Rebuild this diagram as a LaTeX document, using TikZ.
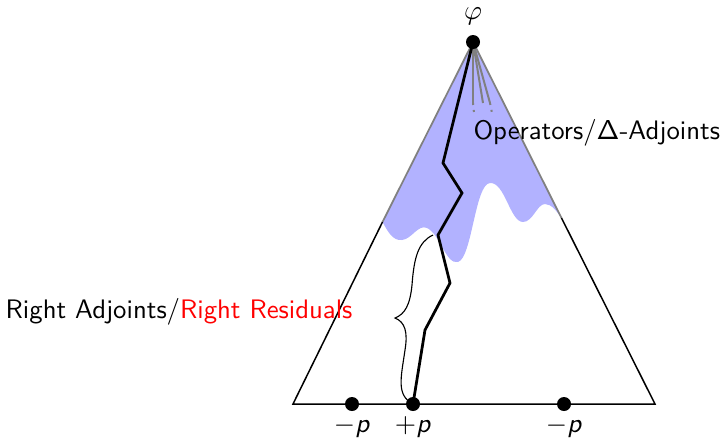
\documentclass[tikz,border=0pt]{standalone}
\usetikzlibrary{calc}
\begin{document}
\begin{tikzpicture}[x=0.4pt,y=-0.4pt,
  dot/.style={circle,fill=black,inner sep=0pt,minimum size=5.6pt},
  lbl/.style={font=\fontsize{10.7pt}{13pt}\selectfont\sffamily,inner sep=0pt},
  opline/.style={draw=gray,line width=0.8pt},
  opdots/.style={draw=gray,line width=0.8pt,dotted}]
\useasboundingbox (0,0) rectangle (720,441);
% key points
\coordinate (apex) at (473,42);
\coordinate (bl) at (293,404);
\coordinate (br) at (655,404);
\coordinate (ls) at (382.5,222);
\coordinate (rs) at (561.5,218);
% shaded region
\fill[blue!30] (apex) -- (ls) .. controls (388,232) and (393,241) .. (402,240)
  .. controls (412,239) and (418,224) .. (427,228)
  .. controls (440,234) and (446,265) .. (458,262)
  .. controls (472,258) and (475,184) .. (490,183)
  .. controls (505,182) and (510,222) .. (523,222)
  .. controls (533,222) and (537,204) .. (545,204)
  .. controls (552,204) and (557,212) .. (rs) -- cycle;
% triangle
\draw[gray,line width=0.7pt] (ls) -- (apex) -- (rs);
\draw[line width=0.6pt] (ls) -- (bl) -- (br) -- (rs);
% operator lines
\coordinate (o1) at (473,103); \coordinate (o2) at (483,103); \coordinate (o3) at (490,103);
\coordinate (d1) at (474,113); \coordinate (d2) at (484,113); \coordinate (d3) at (492,113);
\draw[opline] (apex) -- (o1); \draw[opline] (apex) -- (o2); \draw[opline] (apex) -- (o3);
\draw[opdots] (o1) -- (d1); \draw[opdots] (o3) -- (d3);
% base points
\node[dot] (m1) at (352,404) {};
\node[dot] (pp) at (413,404) {};
\node[dot] (m2) at (564,404) {};
\node[dot] (top) at (apex) {};
% lightning path
\draw[line width=1.1pt,line join=miter] (top.center) -- (443,163) -- (462,193) -- (438,235) -- (450,283) -- (425,330) -- (pp.center);
% brace
\coordinate (bt) at (433,235);
\coordinate (btip) at (395,318);
\draw[line width=0.45pt] (bt) .. controls (418,242) and (414,258) .. (412,285)
  .. controls (410,305) and (405,314) .. (btip)
  .. controls (405,322) and (408,332) .. (405,350)
  .. controls (401,378) and (396,395) .. (pp.center);
% labels
\node[lbl] (phi) at (473,16) {$\varphi$};
\node[lbl,below=5pt] (lm1) at (m1) {$-$\textit{p}};
\node[lbl,below=5pt] (lpp) at (pp) {$+$\textit{p}};
\node[lbl,below=5pt] (lm2) at (m2) {$-$\textit{p}};
\node[lbl,anchor=base west] (ops) at (473,139) {Operators/$\mathsf{\Delta}$-Adjoints};
\node[lbl,anchor=base east] (ra) at (353,318) {Right Adjoints/\textcolor{red}{Right Residuals}};
\end{tikzpicture}
\end{document}
